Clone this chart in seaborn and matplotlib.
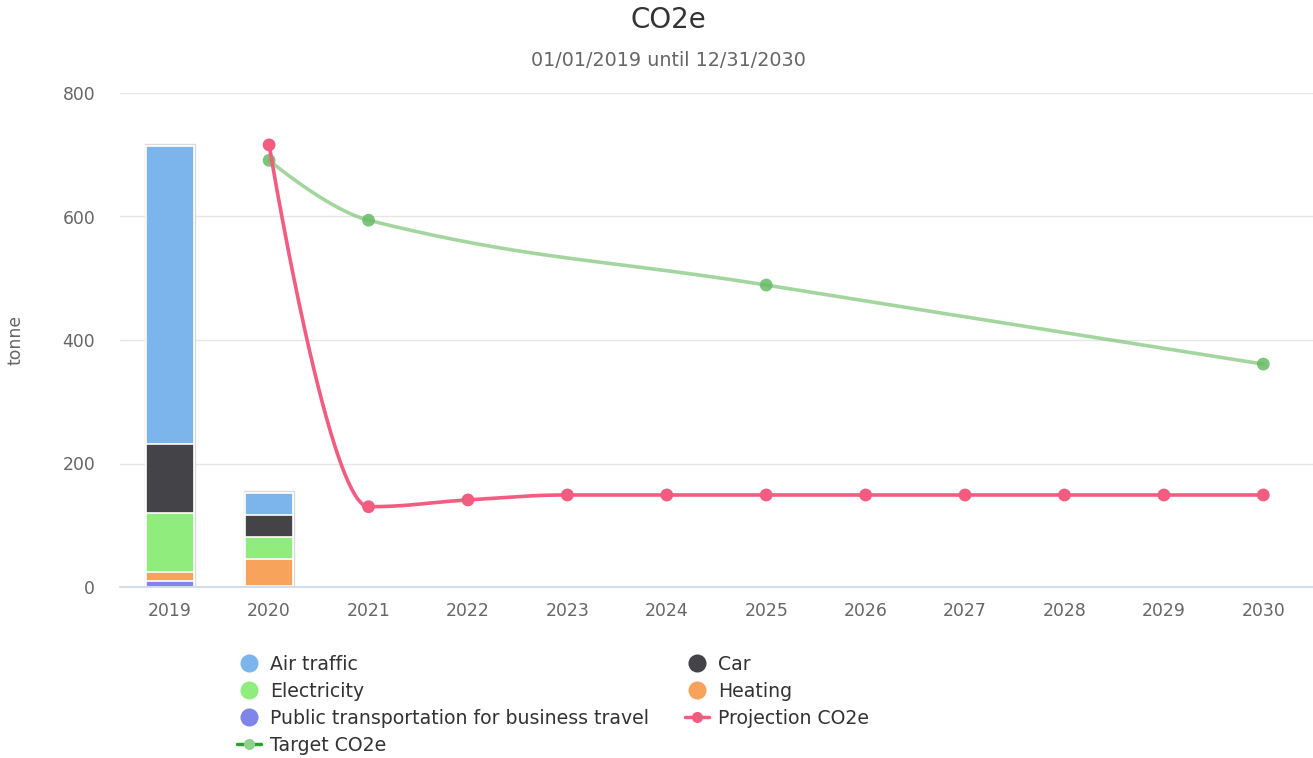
import numpy as np
import pandas as pd
import matplotlib
matplotlib.use("Agg")
import matplotlib.pyplot as plt
from matplotlib.lines import Line2D
import seaborn as sns

# categories
years = ["2019", "2020", "2021", "2022", "2023", "2024", "2025",
         "2026", "2027", "2028", "2029", "2030"]

# stacked emissions by source (tonne)
bar_years = ["2019", "2020"]
public_transport = [9, 1]
heating = [15, 44]
electricity = [96, 36]
car = [112, 36]
air_traffic = [482, 35]

# projection / target lines
proj_years = ["2020", "2021", "2022", "2023", "2024", "2025",
              "2026", "2027", "2028", "2029", "2030"]
proj_values = [716, 130, 141, 149, 149, 149, 149, 149, 149, 149, 149]
target_years = ["2020", "2021", "2025", "2030"]
target_values = [691, 594, 489, 361]

colors = {
    "Air traffic": "#7cb5ec",
    "Car": "#434348",
    "Electricity": "#90ed7d",
    "Heating": "#f7a35c",
    "Public transportation for business travel": "#8085e9",
}
proj_color = "#f15c80"
target_line = "#7cc576"
target_marker = "#66bb66"


def spline(xs, ys, smoothing=1.5, n=60):
    # bezier spline through the points, no overshoot at extremes
    xs = np.asarray(xs, float)
    ys = np.asarray(ys, float)
    conts = []
    for i in range(len(xs)):
        c = None
        if 0 < i < len(xs) - 1:
            x0, y0, x1, y1, x2, y2 = xs[i-1], ys[i-1], xs[i], ys[i], xs[i+1], ys[i+1]
            d = smoothing + 1
            lx, ly = (smoothing * x1 + x0) / d, (smoothing * y1 + y0) / d
            rx, ry = (smoothing * x1 + x2) / d, (smoothing * y1 + y2) / d
            corr = (ry - ly) * (x1 - lx) / (rx - lx) + ly - y1
            ly -= corr
            ry -= corr
            if ly > max(y0, y1):
                ly = max(y0, y1); ry = 2 * y1 - ly
            elif ly < min(y0, y1):
                ly = min(y0, y1); ry = 2 * y1 - ly
            if ry > max(y1, y2):
                ry = max(y1, y2); ly = 2 * y1 - ry
            elif ry < min(y1, y2):
                ry = min(y1, y2); ly = 2 * y1 - ry
            c = (lx, ly, rx, ry)
        conts.append(c)
    t = np.linspace(0, 1, n)[:, None]
    out = []
    for i in range(1, len(xs)):
        p0 = np.array([xs[i-1], ys[i-1]])
        p3 = np.array([xs[i], ys[i]])
        p1 = np.array(conts[i-1][2:]) if conts[i-1] else p0
        p2 = np.array(conts[i][:2]) if conts[i] else p3
        seg = ((1-t)**3) * p0 + 3 * ((1-t)**2) * t * p1 + 3 * (1-t) * t**2 * p2 + t**3 * p3
        out.append(seg)
    out = np.vstack(out)
    return out[:, 0], out[:, 1]


sns.set_theme(style="white")
plt.rcParams["font.family"] = ["DejaVu Sans"]

fig = plt.figure(figsize=(13.13, 7.58), dpi=100)
ax = fig.add_axes([120 / 1313, 1 - 587 / 758, 1193 / 1313, 494 / 758])

# stacked bars: draw cumulative totals from the top down
stack = pd.DataFrame({
    "year": bar_years,
    "Public transportation for business travel": public_transport,
    "Heating": heating,
    "Electricity": electricity,
    "Car": car,
    "Air traffic": air_traffic,
})
order = ["Public transportation for business travel", "Heating", "Electricity", "Car", "Air traffic"]
cum = stack[order].cumsum(axis=1)
for name in reversed(order):
    sns.barplot(x=stack["year"], y=cum[name], order=years, color=colors[name],
                width=0.48, edgecolor="white", linewidth=1.2, saturation=1, ax=ax, zorder=2)
# faint outline around each stack
for p in ax.patches[:len(bar_years)]:
    x0, w, h = p.get_x(), p.get_width(), p.get_height()
    ax.plot([x0 - 0.012, x0 - 0.012, x0 + w + 0.012, x0 + w + 0.012],
            [0, h + 3, h + 3, 0], color="#d9d9d9", lw=1, zorder=1.5)

pos = {y: i for i, y in enumerate(years)}

# target line
tx = [pos[y] for y in target_years]
sx, sy = spline(tx, target_values)
ax.plot(sx, sy, color=target_line, lw=2.6, alpha=0.7, zorder=3, solid_capstyle="round")
sns.scatterplot(x=tx, y=target_values, color=target_marker, s=85, alpha=0.85,
                edgecolor="none", ax=ax, zorder=4)

# projection line
px = [pos[y] for y in proj_years]
sx, sy = spline(px, proj_values)
ax.plot(sx, sy, color=proj_color, lw=2.6, zorder=5, solid_capstyle="round")
sns.scatterplot(x=px, y=proj_values, color=proj_color, s=85, edgecolor="none", ax=ax, zorder=6)

ax.set_xlim(-0.5, 11.5)
ax.set_ylim(0, 800)
ax.set_yticks([0, 200, 400, 600, 800])
ax.yaxis.grid(True, color="#e6e6e6", lw=1)
ax.set_axisbelow(True)
for s in ["top", "right", "left"]:
    ax.spines[s].set_visible(False)
ax.spines["bottom"].set_color("#ccd6eb")
ax.spines["bottom"].set_linewidth(1.2)
ax.spines["bottom"].set_zorder(7)
ax.tick_params(axis="both", length=0, labelsize=12.4, labelcolor="#666666")
ax.tick_params(axis="y", pad=18)
ax.tick_params(axis="x", pad=11)
ax.set_xlabel("")
ax.set_ylabel("tonne", fontsize=12.4, color="#666666")
ax.yaxis.set_label_coords(-0.08, 0.5)

fig.text(668 / 1313, 1 - 20 / 758, "CO2e", ha="center", va="center", fontsize=20, color="#333333")
fig.text(668 / 1313, 1 - 60 / 758, "01/01/2019 until 12/31/2030", ha="center", va="center",
         fontsize=13.8, color="#666666")

# legend
def dot(c):
    return Line2D([], [], ls="none", marker="o", markersize=13, color=c, markeredgewidth=0)

handles = [
    dot(colors["Air traffic"]),
    dot(colors["Electricity"]),
    dot(colors["Public transportation for business travel"]),
    Line2D([], [], color="#2ca02c", lw=2.5, marker="o", markersize=8,
           markerfacecolor="#8fd18a", markeredgewidth=0),
    dot(colors["Car"]),
    dot(colors["Heating"]),
    Line2D([], [], color=proj_color, lw=2.5, marker="o", markersize=8, markeredgewidth=0),
]
labels = ["Air traffic", "Electricity", "Public transportation for business travel", "Target CO2e",
          "Car", "Heating", "Projection CO2e"]
fig.legend(handles, labels, loc="upper left", bbox_to_anchor=(237 / 1313, 1 - 655 / 758),
           ncol=2, frameon=False, fontsize=13.6, labelcolor="#333333", handlelength=1.27,
           handletextpad=0.48, columnspacing=1.9, labelspacing=0.42, borderpad=0,
           borderaxespad=0)

fig.savefig("out.png", dpi=100)
